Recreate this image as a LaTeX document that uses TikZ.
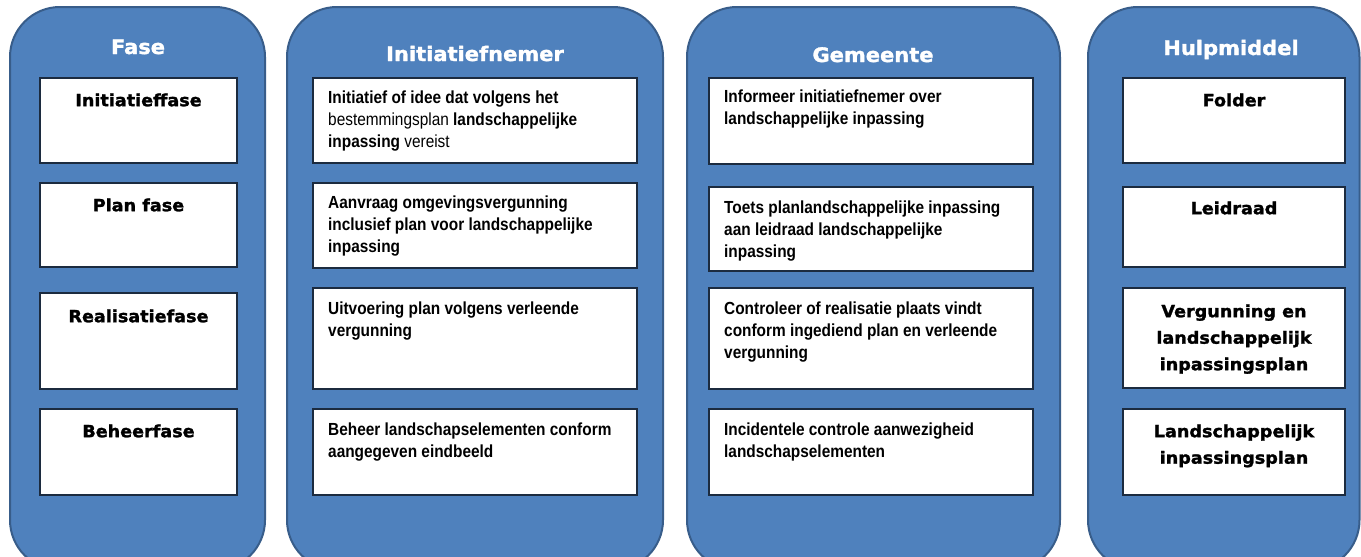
\documentclass[tikz,border=0pt]{standalone}
\usepackage{fontspec}
\newfontfamily\narrowfont[FakeStretch=0.88]{Liberation Sans}
\newfontfamily\heavyfont[FakeStretch=1.05, FakeBold=1.6]{DejaVu Sans Bold}
\definecolor{colfill}{HTML}{4F81BD}
\definecolor{coledge}{HTML}{385D8A}
\definecolor{boxedge}{HTML}{1C2B3F}
\newcommand{\lineup}{\rule{0pt}{14pt}}
\begin{document}
\begin{tikzpicture}[x=1pt,y=-1pt,
  column/.style={draw=coledge, line width=2pt, fill=colfill, rounded corners=50pt},
  stepbox/.style={draw=boxedge, line width=1.6pt, fill=white},
  coltitle/.style={text=white, font=\heavyfont\fontsize{20}{24}\selectfont, anchor=base, inner sep=0pt},
  phaselabel/.style={font=\heavyfont\fontsize{16.75}{26.5}\selectfont, align=center, anchor=north, inner sep=0pt},
  descr/.style={font=\narrowfont\bfseries\fontsize{17.5}{22}\selectfont, align=left, anchor=north west, inner sep=0pt}]
\useasboundingbox (0,0) rectangle (1361,557);
\fill[white] (0,0) rectangle (1361,557);
% columns
\draw[column] (10,7) rectangle (265,570);
\draw[column] (287,7) rectangle (663,570);
\draw[column] (687,7) rectangle (1060,570);
\draw[column] (1088,7) rectangle (1359.5,570);
% titles
\node[coltitle] (t1) at (138,54) {Fase};
\node[coltitle] (t2) at (475,61) {Initiatiefnemer};
\node[coltitle] (t3) at (873,62) {Gemeente};
\node[coltitle] (t4) at (1231,55) {Hulpmiddel};
% boxes column 1
\draw[stepbox] (40,78) rectangle (237,163);
\draw[stepbox] (40,183) rectangle (237,267);
\draw[stepbox] (40,293) rectangle (237,389);
\draw[stepbox] (40,409) rectangle (237,495);
% boxes column 2
\draw[stepbox] (313,78) rectangle (637,163);
\draw[stepbox] (313,183) rectangle (637,268);
\draw[stepbox] (313,288) rectangle (637,389);
\draw[stepbox] (313,409) rectangle (637,495);
% boxes column 3
\draw[stepbox] (709,78) rectangle (1033,164);
\draw[stepbox] (709,187) rectangle (1033,271);
\draw[stepbox] (709,288) rectangle (1033,389);
\draw[stepbox] (709,409) rectangle (1033,495);
% boxes column 4
\draw[stepbox] (1123,78) rectangle (1345,163);
\draw[stepbox] (1123,187) rectangle (1345,267);
\draw[stepbox] (1123,288) rectangle (1345,388);
\draw[stepbox] (1123,409) rectangle (1345,495);
% column 1 labels
\node[phaselabel] (f1) at (138.5,92) {\lineup Initiatieffase};
\node[phaselabel] (f2) at (138.5,197) {\lineup Plan fase};
\node[phaselabel] (f3) at (138.5,308) {\lineup Realisatiefase};
\node[phaselabel] (f4) at (138.5,423) {\lineup Beheerfase};
% column 2 texts
\node[descr] (i1) at (328,89) {\lineup Initiatief of idee dat volgens het\\{\mdseries bestemmingsplan} landschappelijke\\inpassing {\mdseries vereist}};
\node[descr] (i2) at (328,194) {\lineup Aanvraag omgevingsvergunning\\inclusief plan voor landschappelijke\\inpassing};
\node[descr] (i3) at (328,300) {\lineup Uitvoering plan volgens verleende\\vergunning};
\node[descr] (i4) at (328,421) {\lineup Beheer landschapselementen conform\\aangegeven eindbeeld};
% column 3 texts
\node[descr] (g1) at (724,88) {\lineup Informeer initiatiefnemer over\\landschappelijke inpassing};
\node[descr] (g2) at (724,199) {\lineup Toets planlandschappelijke inpassing\\aan leidraad landschappelijke\\inpassing};
\node[descr] (g3) at (724,300) {\lineup Controleer of realisatie plaats vindt\\conform ingediend plan en verleende\\vergunning};
\node[descr] (g4) at (724,421) {\lineup Incidentele controle aanwezigheid\\landschapselementen};
% column 4 labels
\node[phaselabel] (h1) at (1234,92) {\lineup Folder};
\node[phaselabel] (h2) at (1234,200) {\lineup Leidraad};
\node[phaselabel] (h3) at (1234,303) {\lineup Vergunning en\\landschappelijk\\inpassingsplan};
\node[phaselabel] (h4) at (1234,423) {\lineup Landschappelijk\\inpassingsplan};
\end{tikzpicture}
\end{document}
